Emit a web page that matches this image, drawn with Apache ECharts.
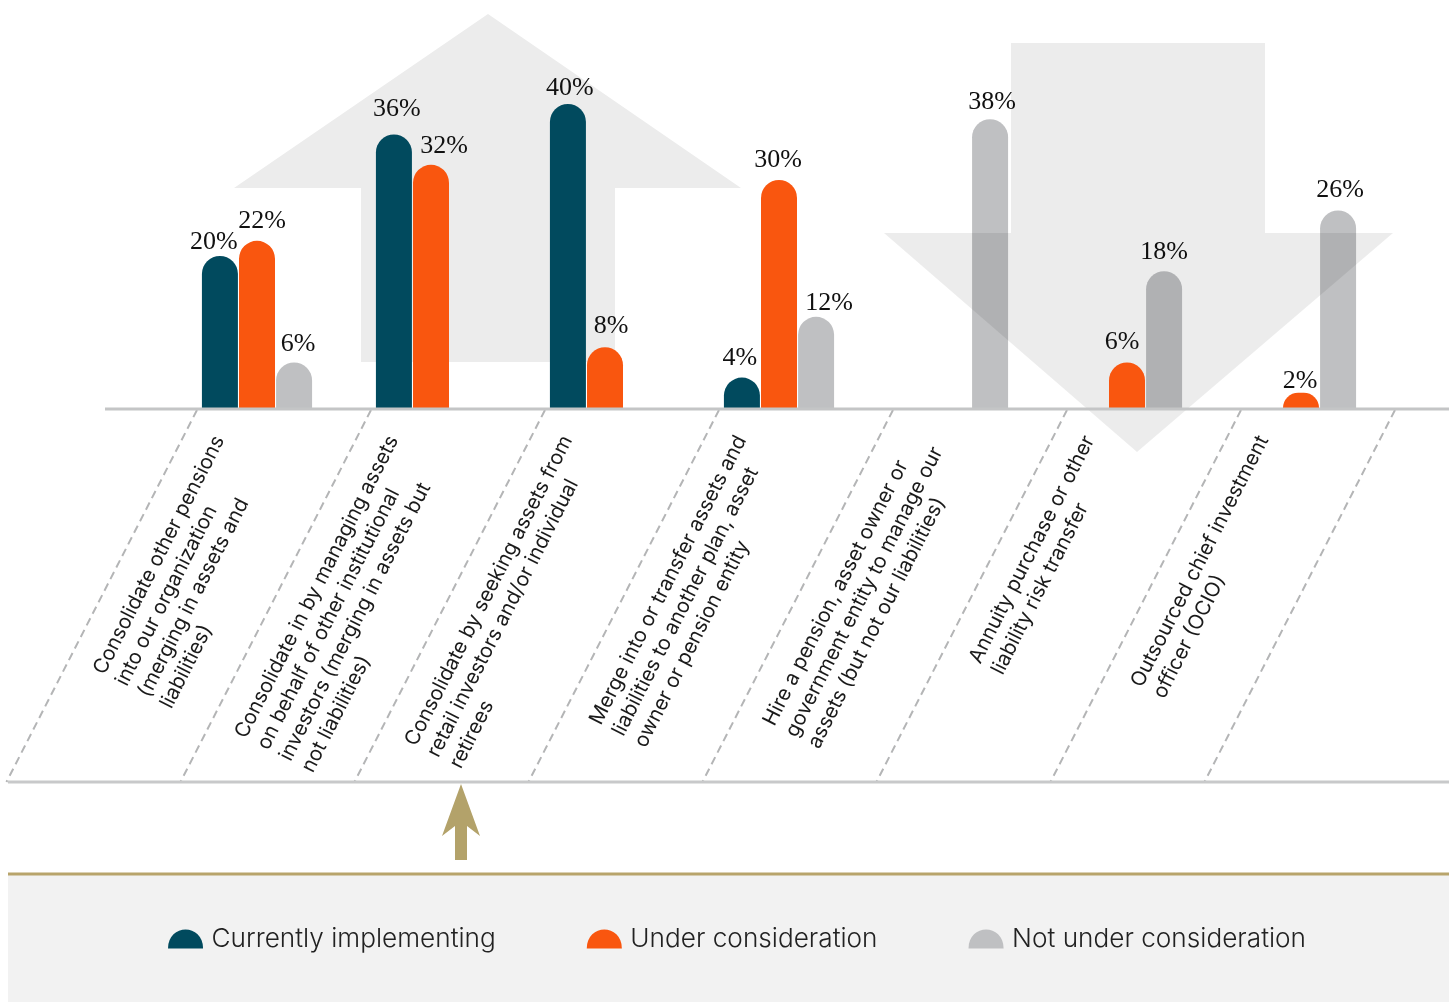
<!DOCTYPE html>
<html>
<head>
<meta charset="utf-8">
<script src="https://cdn.jsdelivr.net/npm/echarts@6/dist/echarts.min.js"></script>
<style>
  html, body { margin: 0; padding: 0; background: #fff; }
  #chart { width: 1449px; height: 1002px; }
</style>
</head>
<body>
<div id="chart"></div>
<script>
// categories (line breaks as in the original)
var categories = [
  "Consolidate other pensions\ninto our organization\n(merging in assets and\nliabilities)",
  "Consolidate in by managing assets\non behalf of other institutional\ninvestors (merging in assets but\nnot liabilities)",
  "Consolidate by seeking assets from\nretail investors and/or individual\nretirees",
  "Merge into or transfer assets and\nliabilities to another plan, asset\nowner or pension entity",
  "Hire a pension, asset owner or\ngovernment entity to manage our\nassets (but not our liabilities)",
  "Annuity purchase or other\nliability risk transfer",
  "Outsourced chief investment\nofficer (OCIO)"
];
var seriesNames = ["Currently implementing", "Under consideration", "Not under consideration"];
var currentlyImplementing = [20, 36, 40, 4, 0, 0, 0];
var underConsideration = [22, 32, 8, 30, 0, 6, 2];
var notUnderConsideration = [6, 0, 0, 12, 38, 18, 26];

var colors = ["#014a5e", "#f9560f", "#bfc0c2"];
// small label nudges so value labels sit like in the original
var nudges = [
  [[-6, 5], [3, -6], [2, 3], [-2, 0], [0, 0], [0, 0], [0, 0]],
  [[5, -1], [13, 0], [6, -2], [-1, -1], [0, 0], [-5, -1], [-1, 7]],
  [[4, 1], [0, 0], [0, 0], [13, 5], [2, 2], [0, 0], [2, -1]]
];
// gray bars sit under the translucent down arrow, coloured bars above it
var seriesZ = [3, 3, 1];

var chart = echarts.init(document.getElementById("chart"));

function makeSeries(name, values, color, nudge, z) {
  return {
    name: name,
    type: "bar",
    z: z,
    barWidth: 36,
    barGap: "3%",
    itemStyle: { color: color, borderRadius: [18, 18, 0, 0] },
    label: {
      show: true,
      position: "top",
      distance: 6,
      fontFamily: "Liberation Serif",
      fontSize: 26,
      color: "#111",
      formatter: function (p) { return p.value ? p.value + "%" : ""; }
    },
    data: values.map(function (v, i) {
      return { value: v, label: { offset: nudge[i] } };
    })
  };
}

chart.setOption({
  animation: false,
  grid: { left: 170, right: 61, top: 28, bottom: 594 },
  xAxis: {
    type: "category",
    data: categories,
    axisLine: { show: false },
    axisTick: { show: false },
    axisLabel: { show: false }
  },
  yAxis: { type: "value", min: 0, max: 50, show: false, splitLine: { show: false } },
  legend: {
    left: 168,
    top: 926,
    padding: 0,
    itemWidth: 36,
    itemHeight: 19,
    itemGap: 91,
    icon: "path://M0,20 C0,-6 36,-6 36,20 Z",
    textStyle: { fontFamily: "Inter", fontWeight: 300, fontSize: 26.2, color: "#222", padding: [0, 0, 0, 3] },
    data: seriesNames
  },
  series: [
    makeSeries(seriesNames[0], currentlyImplementing, colors[0], nudges[0], seriesZ[0]),
    makeSeries(seriesNames[1], underConsideration, colors[1], nudges[1], seriesZ[1]),
    makeSeries(seriesNames[2], notUnderConsideration, colors[2], nudges[2], seriesZ[2])
  ]
});

// decoration: arrows, separators, rotated category labels, legend band
var y0 = chart.convertToPixel({ gridIndex: 0 }, [0, 0])[1];
var centers = categories.map(function (c, i) {
  return chart.convertToPixel({ xAxisIndex: 0 }, i);
});

var ctx = document.createElement("canvas").getContext("2d");
var labelFont = "400 20.5px Inter";
ctx.font = labelFont;
var ang = 63 * Math.PI / 180;
var bottomY = 782;
var slant = (bottomY - y0) / Math.tan(ang);

var els = [];
// big up arrow behind the bars
els.push({
  type: "polygon", z: 0,
  shape: { points: [[488, 14], [741, 188], [615, 188], [615, 362], [361, 362], [361, 188], [234, 188]] },
  style: { fill: "#ececec" }
});
// big down arrow (translucent), above gray bars only
els.push({
  type: "polygon", z: 2,
  shape: { points: [[1011, 43], [1265, 43], [1265, 233], [1393, 233], [1137, 452], [884, 233], [1011, 233]] },
  style: { fill: "rgba(0,0,0,0.075)" }
});
// baseline
els.push({
  type: "line", z: 5,
  shape: { x1: 105, y1: y0 + 1, x2: 1449, y2: y0 + 1 },
  style: { stroke: "#c4c5c6", lineWidth: 3 }
});
// slanted dashed separators
var sepX = centers.map(function (c) { return c - 60; });
sepX.push(centers[centers.length - 1] + 94);
sepX.forEach(function (x) {
  els.push({
    type: "line", z: 4,
    shape: { x1: x, y1: y0 + 2, x2: x - slant, y2: bottomY },
    style: { stroke: "#b4b5b6", lineWidth: 2, lineDash: [8, 5] }
  });
});
// bottom line
els.push({
  type: "line", z: 5,
  shape: { x1: 8, y1: bottomY, x2: 1449, y2: bottomY },
  style: { stroke: "#c8c9ca", lineWidth: 3 }
});
// rotated category labels
categories.forEach(function (txt, i) {
  var w = Math.max.apply(null, txt.split("\n").map(function (s) { return ctx.measureText(s).width; }));
  els.push({
    type: "text", z: 6,
    x: centers[i], y: y0,
    rotation: ang,
    style: {
      text: txt, x: -43 - w, y: -33,
      font: labelFont, lineHeight: 25,
      fill: "#1a1a1a", textAlign: "left", textVerticalAlign: "top"
    }
  });
});
// small gold arrow
els.push({
  type: "polygon", z: 5,
  shape: { points: [[461, 784], [480, 836], [467, 826], [467, 860], [455, 860], [455, 826], [442, 836]] },
  style: { fill: "#b3a26a" }
});
// legend band
els.push({
  type: "rect", z: -1,
  shape: { x: 8, y: 873, width: 1441, height: 129 },
  style: { fill: "#f2f2f2" }
});
els.push({
  type: "line", z: 5,
  shape: { x1: 8, y1: 874, x2: 1449, y2: 874 },
  style: { stroke: "#b8a46b", lineWidth: 3 }
});

chart.setOption({ graphic: { elements: els } });
</script>
</body>
</html>
